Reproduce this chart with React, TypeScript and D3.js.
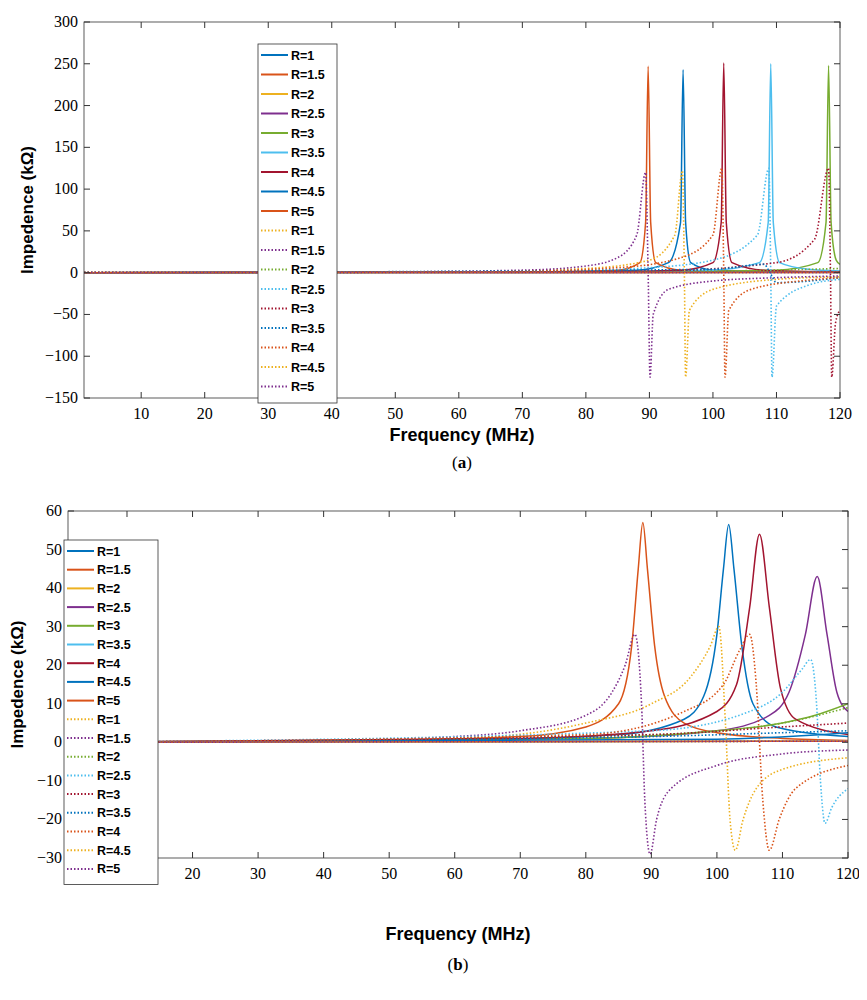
import * as d3 from "d3";

type Pt = [number, number];

const labels = ["R=1", "R=1.5", "R=2", "R=2.5", "R=3", "R=3.5", "R=4", "R=4.5", "R=5"];
const palette = ["#0072BD", "#D95319", "#EDB120", "#7E2F8E", "#77AC30", "#4DBEEE", "#A2142F"];
const xTicks = [10, 20, 30, 40, 50, 60, 70, 80, 90, 100, 110, 120];
const yTicksA = [-150, -100, -50, 0, 50, 100, 150, 200, 250, 300];
const yTicksB = [-30, -20, -10, 0, 10, 20, 30, 40, 50, 60];

// panel (a) solid
const aSolid: Pt[][] = [
  [[1, 0], [70, 1], [88, 3], [93, 12], [94.9, 60], [95.3, 243], [95.7, 60], [96.5, 12], [100, 3], [120, 0.5]],
  [[1, 0], [70, 1], [85, 3], [88.5, 12], [89.4, 60], [89.8, 247], [90.2, 60], [91, 12], [95, 3], [120, 0.5]],
  [[1, 0], [120, 0.3]],
  [[1, 0], [120, 0.3]],
  [[1, 0], [90, 1], [110, 3], [116.5, 12], [117.8, 60], [118.2, 248], [118.6, 60], [119.4, 15], [120, 10]],
  [[1, 0], [80, 1], [100, 3], [107.3, 12], [108.7, 60], [109.1, 250], [109.5, 60], [110.5, 12], [115, 4], [120, 2]],
  [[1, 0], [75, 1], [95, 3], [100, 12], [101.3, 60], [101.7, 251], [102.1, 60], [103, 12], [108, 3], [120, 1]],
  [[1, 0], [120, 0.5]],
  [[1, 0], [120, 0.5]],
];
// panel (a) dotted
const aDotted: Pt[][] = [
  [[1, 0], [60, 1], [80, 5], [90, 15], [94, 45], [95.2, 122], [95.5, 0], [95.7, -125], [96.3, -45], [100, -20], [110, -8], [120, -5]],
  [[1, 0], [40, 0.5], [70, 3], [80, 8], [85, 18], [88, 45], [89.4, 120], [89.8, 0], [90.1, -125], [90.6, -50], [93, -20], [100, -10], [110, -6], [120, -4]],
  [[1, 0], [100, 2], [120, 5]],
  [[1, 0], [70, 1], [90, 6], [100, 15], [107, 45], [108.8, 125], [109.1, 0], [109.3, -125], [110, -40], [115, -15], [120, -8]],
  [[1, 0], [90, 2], [110, 12], [116, 40], [118.2, 125], [118.5, 0], [118.7, -125], [119.3, -60], [120, -45]],
  [[1, 0], [100, 4], [108, 10], [109, 0], [110, -12], [120, -6]],
  [[1, 0], [65, 1], [85, 6], [95, 18], [100, 45], [101.4, 125], [101.7, 0], [101.9, -125], [102.5, -45], [106, -20], [115, -9], [120, -6]],
  [[1, 0], [120, 0.3]],
  [[1, 0], [120, 0.3]],
];
// panel (b) solid
const bSolid: Pt[][] = [
  [[1, 0], [60, 0.5], [85, 2], [95, 6], [98, 12], [100, 28], [101, 45], [101.8, 56.5], [102.6, 45], [103.8, 25], [105.5, 10], [109, 4], [120, 1.5]],
  [[1, 0], [40, 0.3], [70, 1.5], [80, 4], [85, 10], [87, 25], [88, 45], [88.7, 57], [89.4, 45], [90.5, 25], [92, 12], [95, 5], [100, 2.5], [110, 1], [120, 0.5]],
  [[1, 0], [120, 0.3]],
  [[1, 0], [80, 1], [100, 3], [108, 7], [111, 13], [113.5, 28], [115.3, 43], [116.8, 28], [118.3, 13], [120, 8]],
  [[1, 0], [80, 1], [100, 3], [110, 5], [115, 7], [120, 10]],
  [[1, 0], [120, 0.3]],
  [[1, 0], [70, 1], [90, 3], [100, 8], [103, 15], [105, 35], [106.5, 54], [108, 35], [109.7, 14], [112, 6], [120, 2]],
  [[1, 0], [100, 0.8], [120, 2.5]],
  [[1, 0], [120, 0.3]],
];
// panel (b) dotted
const bDotted: Pt[][] = [
  [[1, 0], [60, 1], [80, 5], [90, 10], [96, 17], [99, 25], [100.3, 30], [101.3, 5], [102, -20], [102.8, -28], [104, -20], [106, -12], [110, -7], [120, -4]],
  [[1, 0], [40, 0.5], [60, 1.5], [70, 3], [80, 7], [84, 13], [86, 20], [87.5, 28], [88.5, 10], [89, -15], [89.8, -29], [90.8, -20], [93, -12], [100, -6], [110, -3], [120, -2]],
  [[1, 0], [90, 2], [110, 5], [120, 9]],
  [[1, 0], [90, 3], [105, 8], [110, 13], [113, 19], [114.3, 21.5], [115.2, 10], [115.8, -10], [116.5, -21], [117.5, -17], [120, -12]],
  [[1, 0], [90, 2], [110, 4], [120, 5]],
  [[1, 0], [90, 1.5], [110, 2.5], [120, 3]],
  [[1, 0], [80, 2], [95, 8], [101, 15], [103.5, 24], [105, 28], [106, 15], [107, -15], [108, -28], [109.5, -20], [112, -12], [120, -6]],
  [[1, 0], [120, 0.3]],
  [[1, 0], [120, 0.3]],
];

const serif = "'Liberation Serif', serif";
const sans = "'Liberation Sans', Arial, sans-serif";

interface PanelProps {
  top: number; bottom: number; left: number; right: number;
  x0: number; yDomain: [number, number]; yTicks: number[];
  solid: Pt[][]; dotted: Pt[][];
  legend: { x: number; y: number; w: number; step: number };
  tag: string; labelY: number; tagY: number; id: string; ylabX: number;
}

function Panel(p: PanelProps) {
  const x = d3.scaleLinear().domain([p.x0, 120]).range([p.left, p.right]);
  const y = d3.scaleLinear().domain(p.yDomain).range([p.bottom, p.top]);
  const line = d3.line<Pt>().x((d) => x(d[0])).y((d) => y(d[1])).curve(d3.curveMonotoneX);
  const all = [
    ...p.solid.map((d, i) => ({ d, c: palette[i % 7], dash: false, label: labels[i] })),
    ...p.dotted.map((d, i) => ({ d, c: palette[(i + 9) % 7], dash: true, label: labels[i] })),
  ];
  const L = p.legend;
  return (
    <g>
      <clipPath id={p.id}><rect x={p.left} y={p.top} width={p.right - p.left} height={p.bottom - p.top} /></clipPath>
      <g clipPath={`url(#${p.id})`}>
        {all.map((s, i) => (
          <path key={i} d={line(s.d)!} fill="none" stroke={s.c} strokeWidth={s.dash ? 1.6 : 1.5}
            strokeDasharray={s.dash ? "1.5 2" : undefined} />
        ))}
      </g>
      <rect x={p.left} y={p.top} width={p.right - p.left} height={p.bottom - p.top} fill="none" stroke="#333" strokeWidth={0.8} />
      {xTicks.map((t) => (
        <g key={t}>
          <line x1={x(t)} x2={x(t)} y1={p.bottom} y2={p.bottom - 6} stroke="#333" />
          <line x1={x(t)} x2={x(t)} y1={p.top} y2={p.top + 6} stroke="#333" />
          <text x={x(t)} y={p.bottom + 21} textAnchor="middle" fontFamily={serif} fontSize={16}>{t}</text>
        </g>
      ))}
      {p.yTicks.map((t) => (
        <g key={t}>
          <line x1={p.left} x2={p.left + 6} y1={y(t)} y2={y(t)} stroke="#333" />
          <line x1={p.right} x2={p.right - 6} y1={y(t)} y2={y(t)} stroke="#333" />
          <text x={p.left - 6} y={y(t) + 5} textAnchor="end" fontFamily={serif} fontSize={16}>{t < 0 ? "\u2212" + -t : t}</text>
        </g>
      ))}
      <text x={(p.left + p.right) / 2} y={p.labelY} textAnchor="middle" fontFamily={sans} fontWeight="bold" fontSize={18}>Frequency (MHz)</text>
      <text transform={`translate(${p.ylabX},${(p.top + p.bottom) / 2}) rotate(-90)`} textAnchor="middle" fontFamily={sans} fontWeight="bold" fontSize={17}>Impedence  (kΩ)</text>
      <text x={(p.left + p.right) / 2} y={p.tagY} textAnchor="middle" fontFamily={serif} fontSize={17}>
        (<tspan fontWeight="bold">{p.tag}</tspan>)
      </text>
      <rect x={L.x} y={L.y} width={L.w} height={L.step * 18 + 8} fill="white" stroke="#333" strokeWidth={0.8} />
      {all.map((s, i) => {
        const yy = L.y + 11 + i * L.step;
        return (
          <g key={i}>
            <line x1={L.x + 3} x2={L.x + 30} y1={yy} y2={yy} stroke={s.c} strokeWidth={2}
              strokeDasharray={s.dash ? "1.5 2" : undefined} />
            <text x={L.x + 33} y={yy + 4.5} fontFamily={sans} fontWeight="bold" fontSize={12.5}>{s.label}</text>
          </g>
        );
      })}
    </g>
  );
}

export default function App() {
  return (
    <svg width={859} height={990} style={{ display: "block", background: "white" }}>
      <g transform="translate(-8,-8)">
        <Panel id="ca" top={22} bottom={398} left={84} right={840} x0={1} yDomain={[-150, 300]} yTicks={yTicksA}
          solid={aSolid} dotted={aDotted} legend={{ x: 258, y: 44, w: 79, step: 19.5 }}
          tag="a" labelY={441} tagY={468} ylabX={33} />
        <Panel id="cb" top={511} bottom={858} left={68} right={848} x0={1} yDomain={[-30, 60]} yTicks={yTicksB}
          solid={bSolid} dotted={bDotted} legend={{ x: 64, y: 540, w: 94, step: 18.7 }}
          tag="b" labelY={940} tagY={970} ylabX={23} />
      </g>
    </svg>
  );
}
